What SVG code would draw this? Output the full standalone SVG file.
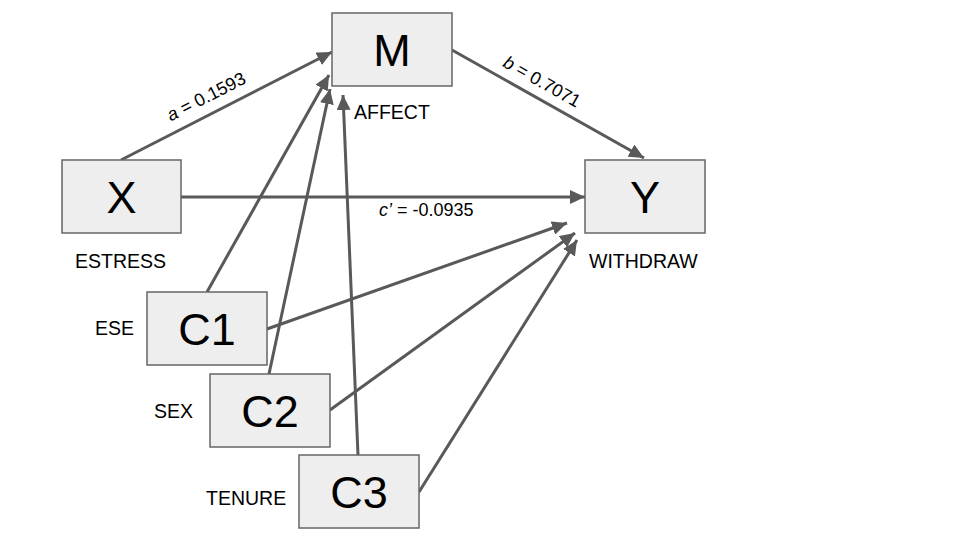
<svg xmlns="http://www.w3.org/2000/svg" width="960" height="540" viewBox="0 0 960 540">
<style>
.box{fill:#eeeeee;stroke:#666666;stroke-width:1.5}
.big{font-family:"Liberation Sans",Arial,sans-serif;font-size:45px;fill:#000;text-anchor:middle}
.lbl{font-family:"Liberation Sans",Arial,sans-serif;font-size:19.5px;fill:#000}
.elbl{font-family:"Liberation Sans",Arial,sans-serif;font-size:18px;fill:#000}
.edge{stroke:#595959;stroke-width:3;fill:none;marker-end:url(#ah)}
</style>
<defs>
<marker id="ah" markerUnits="userSpaceOnUse" markerWidth="16" markerHeight="14" refX="15" refY="7" orient="auto">
<path d="M0,0 L15,7 L0,14 Z" fill="#595959"/>
</marker>
</defs>
<rect width="960" height="540" fill="#ffffff"/>
<g id="connectors">
<line class="edge" x1="121" y1="160" x2="332" y2="52"/>
<line class="edge" x1="452" y1="50" x2="644" y2="158"/>
<line class="edge" x1="181" y1="197" x2="585" y2="197"/>
<line class="edge" x1="207" y1="292" x2="329" y2="75"/>
<line class="edge" x1="269" y1="374" x2="330" y2="89"/>
<line class="edge" x1="358" y1="455" x2="343" y2="95"/>
<line class="edge" x1="267" y1="329" x2="567" y2="223"/>
<line class="edge" x1="330" y1="410" x2="575" y2="233"/>
<line class="edge" x1="419" y1="492" x2="577" y2="240"/>
<text class="elbl" transform="translate(209,102) rotate(-27)" text-anchor="middle"><tspan font-style="italic">a</tspan> = 0.1593</text>
<text class="elbl" transform="translate(539,87) rotate(29.4)" text-anchor="middle"><tspan font-style="italic">b</tspan> = 0.7071</text>
<text class="elbl" x="379" y="216"><tspan font-style="italic">c’</tspan> = -0.0935</text>
</g>
<g id="M"><rect class="box" x="332" y="13" width="120" height="73"/><text class="big" x="392" y="66">M</text><text class="lbl" x="354" y="119">AFFECT</text></g>
<g id="X"><rect class="box" x="62" y="160" width="119" height="73"/><text class="big" x="121.5" y="213">X</text><text class="lbl" x="75" y="268">ESTRESS</text></g>
<g id="Y"><rect class="box" x="585" y="160" width="120" height="73"/><text class="big" x="645" y="213">Y</text><text class="lbl" x="589" y="268">WITHDRAW</text></g>
<g id="C1"><rect class="box" x="147" y="292" width="120" height="73"/><text class="big" x="207" y="345">C1</text><text class="lbl" x="95" y="335">ESE</text></g>
<g id="C2"><rect class="box" x="210" y="374" width="120" height="73"/><text class="big" x="270" y="427">C2</text><text class="lbl" x="154" y="418">SEX</text></g>
<g id="C3"><rect class="box" x="299" y="455" width="120" height="73"/><text class="big" x="359" y="508">C3</text><text class="lbl" x="206" y="505">TENURE</text></g>
</svg>
